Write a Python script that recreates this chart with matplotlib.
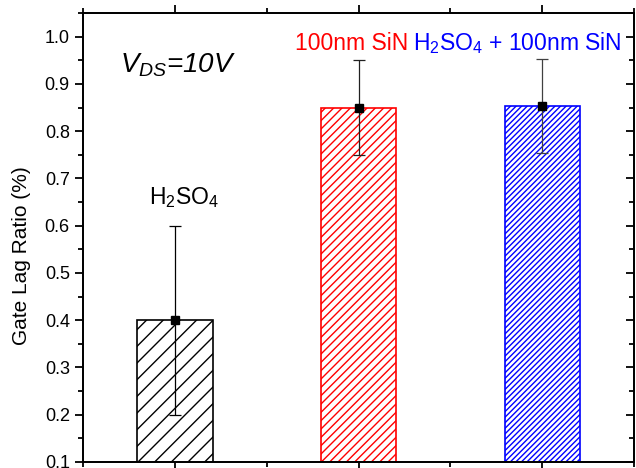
import matplotlib
matplotlib.use("Agg")
import matplotlib.pyplot as plt
from matplotlib.ticker import MultipleLocator

plt.rcParams['font.family'] = ['Liberation Sans', 'DejaVu Sans']
plt.rcParams['mathtext.fontset'] = 'custom'
plt.rcParams['mathtext.rm'] = 'Liberation Sans'
plt.rcParams['mathtext.it'] = 'Liberation Sans:italic'
plt.rcParams['hatch.linewidth'] = 1.0

# data
positions = [1, 2, 3]
ratio = [0.40, 0.85, 0.853]
err = [0.20, 0.10, 0.10]
edge_colors = ['black', '#ff0000', '#0000ff']
hatches = ['//', '////', '//////']
err_colors = ['black', '#202020', '#404040']
labels = [r'H$_2$SO$_4$', '100nm SiN', r'H$_2$SO$_4$ + 100nm SiN']
label_colors = ['black', '#ff0000', '#0000ff']
label_pos = [(1.05, 0.645), (1.96, 0.972), (2.865, 0.972)]

fig = plt.figure(figsize=(6.36, 4.68), dpi=100)
ax = fig.add_axes([0.1305, 0.013, 0.8665, 0.959])

for x, y, ec, h in zip(positions, ratio, edge_colors, hatches):
    ax.bar(x, y, width=0.41, facecolor='white', edgecolor=ec, hatch=h, linewidth=1.2, zorder=2)

for x, y, e, c in zip(positions, ratio, err, err_colors):
    ax.errorbar(x, y, yerr=e, fmt='s', color='black', ecolor=c, elinewidth=0.9,
                capsize=4, capthick=0.9, markersize=6, zorder=3)

for (lx, ly), t, c in zip(label_pos, labels, label_colors):
    ax.text(lx, ly, t, color=c, fontsize=16.5, ha='center', va='baseline')

ax.text(0.70, 0.924, r'$V_{DS}$=10V', fontsize=20, style='italic', ha='left', va='baseline')

ax.set_xlim(0.5, 3.5)
ax.set_ylim(0.1, 1.05)
ax.set_ylabel('Gate Lag Ratio (%)', fontsize=15)
ax.yaxis.set_label_coords(-0.094, 0.459)

ax.xaxis.set_major_locator(MultipleLocator(1))
ax.xaxis.set_minor_locator(MultipleLocator(0.5))
ax.yaxis.set_major_locator(MultipleLocator(0.1))
ax.yaxis.set_minor_locator(MultipleLocator(0.05))
ax.set_xticklabels([])
ax.tick_params(axis='y', which='both', direction='out', left=True, right=False, labelsize=13)
ax.tick_params(axis='x', which='both', direction='out', top=True, bottom=True)
ax.tick_params(which='major', length=6, width=1.3)
ax.tick_params(which='minor', length=3.5, width=1.3)
ax.tick_params(axis='x', which='minor', length=3.5)

# inward ticks on the right side
ax2 = ax.twinx()
ax2.set_ylim(ax.get_ylim())
ax2.yaxis.set_major_locator(MultipleLocator(0.1))
ax2.yaxis.set_minor_locator(MultipleLocator(0.05))
ax2.tick_params(axis='y', which='both', direction='in', labelright=False, width=1.3)
ax2.tick_params(which='major', length=6)
ax2.tick_params(which='minor', length=3.5)

for a in (ax, ax2):
    for s in a.spines.values():
        s.set_linewidth(1.3)

fig.savefig('out.png', dpi=100)
